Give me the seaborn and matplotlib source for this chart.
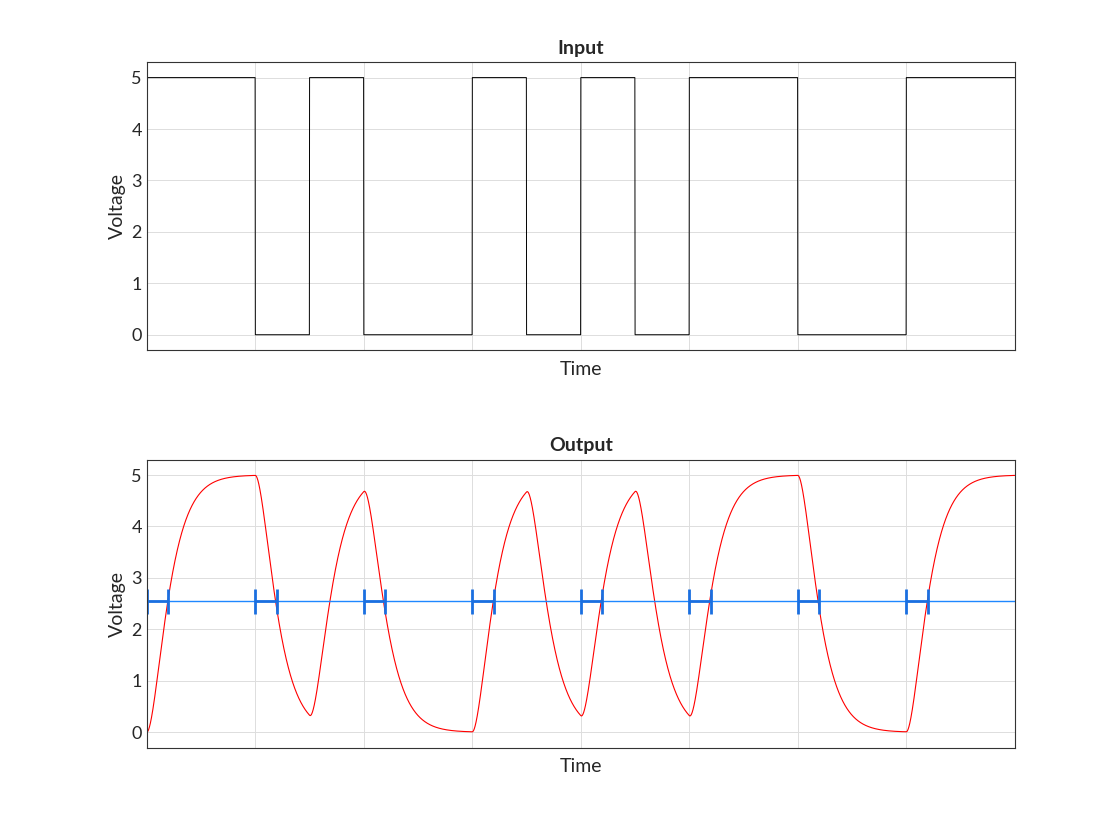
import numpy as np
import seaborn as sns
import matplotlib.pyplot as plt

sns.set_style("white")
plt.rcParams['font.family'] = ['Lato', 'DejaVu Sans']

# input levels, one per half time unit
half_bits = [1, 1, 0, 1, 0, 0, 1, 0, 1, 0, 1, 1, 0, 0, 1, 1]
high_volt = 5.0
threshold = 2.55
mark_starts = [0, 1, 2, 3, 4, 5, 6, 7]
mark_width = 0.2
tau = 0.114  # two cascaded RC stages

# input waveform
t = np.linspace(0, 8, 8001)
idx = np.minimum((t / 0.5).astype(int), len(half_bits) - 1)
vin = high_volt * np.array(half_bits)[idx]

# output = input through two RC stages
dt = t[1] - t[0]
a = dt / tau
s1 = np.zeros_like(t)
s2 = np.zeros_like(t)
for i in range(1, len(t)):
    s1[i] = s1[i-1] + a * (vin[i-1] - s1[i-1])
    s2[i] = s2[i-1] + a * (s1[i-1] - s2[i-1])
vin_plot = vin.copy()
vin_plot[0] = 0

fig, axes = plt.subplots(2, 1, figsize=(11.2, 8.4), dpi=100)
fig.subplots_adjust(left=0.131, right=0.906, top=0.926, bottom=0.11, hspace=0.38)

sns.lineplot(x=t, y=vin_plot, ax=axes[0], color="black", linewidth=0.7)
sns.lineplot(x=t, y=s2, ax=axes[1], color="red", linewidth=0.8)
axes[1].axhline(threshold, color="#1f88ff", linewidth=1)
for x0 in mark_starts:
    axes[1].errorbar(x0 + mark_width / 2, threshold, xerr=mark_width / 2,
                     color="#1a6fe0", linewidth=2, capsize=9, capthick=2)

for ax, title in zip(axes, ["Input", "Output"]):
    ax.set_xlim(0, 8)
    ax.set_ylim(-0.3, 5.3)
    ax.set_xticks(range(9))
    ax.set_xticklabels([])
    ax.set_yticks(range(6))
    ax.tick_params(direction="in", labelsize=13, length=4)
    ax.grid(True, color="#dddddd", linewidth=0.7)
    ax.set_title(title, fontweight="bold", fontsize=14)
    ax.set_xlabel("Time", fontsize=14)
    ax.set_ylabel("Voltage", fontsize=14)
    for sp in ax.spines.values():
        sp.set_color("#333333")
        sp.set_linewidth(0.8)

fig.savefig("out.png")
